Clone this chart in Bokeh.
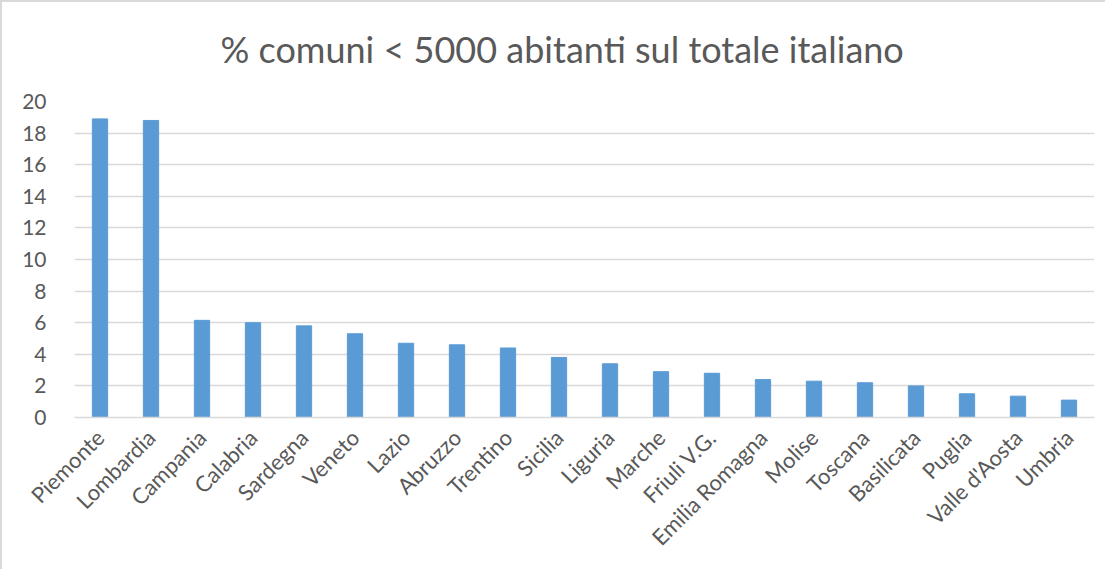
import math
from bokeh.plotting import figure
from bokeh.models import Title, FixedTicker
from bokeh.embed import file_html
from bokeh.resources import INLINE

regions = ["Piemonte", "Lombardia", "Campania", "Calabria", "Sardegna", "Veneto",
           "Lazio", "Abruzzo", "Trentino", "Sicilia", "Liguria", "Marche",
           "Friuli V.G.", "Emilia Romagna", "Molise", "Toscana", "Basilicata",
           "Puglia", "Valle d'Aosta", "Umbria"]
percent = [18.9, 18.8, 6.15, 6.0, 5.8, 5.3, 4.7, 4.6, 4.4, 3.8, 3.4, 2.9, 2.8,
           2.4, 2.3, 2.2, 2.0, 1.5, 1.35, 1.1]
y_ticks = [0, 2, 4, 6, 8, 10, 12, 14, 16, 18, 20]
title_text = "% comuni < 5000 abitanti sul totale italiano"

FONT = "Lato"
GREY = "#595959"
GRID = "#d9d9d9"

p = figure(x_range=regions, y_range=(0, 20), width=1105, height=569,
           output_backend="svg", toolbar_location=None, tools="",
           min_border_left=72, min_border_right=13, min_border_top=99,
           min_border_bottom=154)
p.styles = {"border-left": "2px solid #d9d9d9", "border-top": "2px solid #d9d9d9"}

p.vbar(x=regions, top=percent, width=0.3, color="#5b9bd5")

# empty spacer between the plot area and the title
spacer = Title(text=" ", text_font=FONT, text_font_size="23px",
               vertical_align="middle", standoff=0)
p.add_layout(spacer, "above")

t = Title(text=title_text, align="left", offset=146, text_font=FONT,
          text_font_size="36px", text_font_style="normal", text_color=GREY,
          vertical_align="middle", standoff=0)
p.add_layout(t, "above")

p.outline_line_color = None
p.xgrid.grid_line_color = None
p.ygrid.grid_line_color = GRID
p.ygrid.grid_line_width = 1.5
p.yaxis.ticker = FixedTicker(ticks=y_ticks)
p.yaxis.axis_line_color = None
p.yaxis.major_tick_line_color = None
p.yaxis.minor_tick_line_color = None
p.yaxis.major_label_standoff = 22
p.yaxis.major_label_text_font = FONT
p.yaxis.major_label_text_font_size = "21px"
p.yaxis.major_label_text_color = GREY

p.xaxis.axis_line_color = GRID
p.xaxis.axis_line_width = 1.5
p.xaxis.major_tick_line_color = None
p.xaxis.major_label_orientation = math.pi / 4
p.xaxis.major_label_standoff = 10
p.xaxis.major_label_text_font = FONT
p.xaxis.major_label_text_font_size = "22px"
p.xaxis.major_label_text_color = GREY

p.x_range.range_padding = 0

open("out.html", "w").write(file_html(p, INLINE))
